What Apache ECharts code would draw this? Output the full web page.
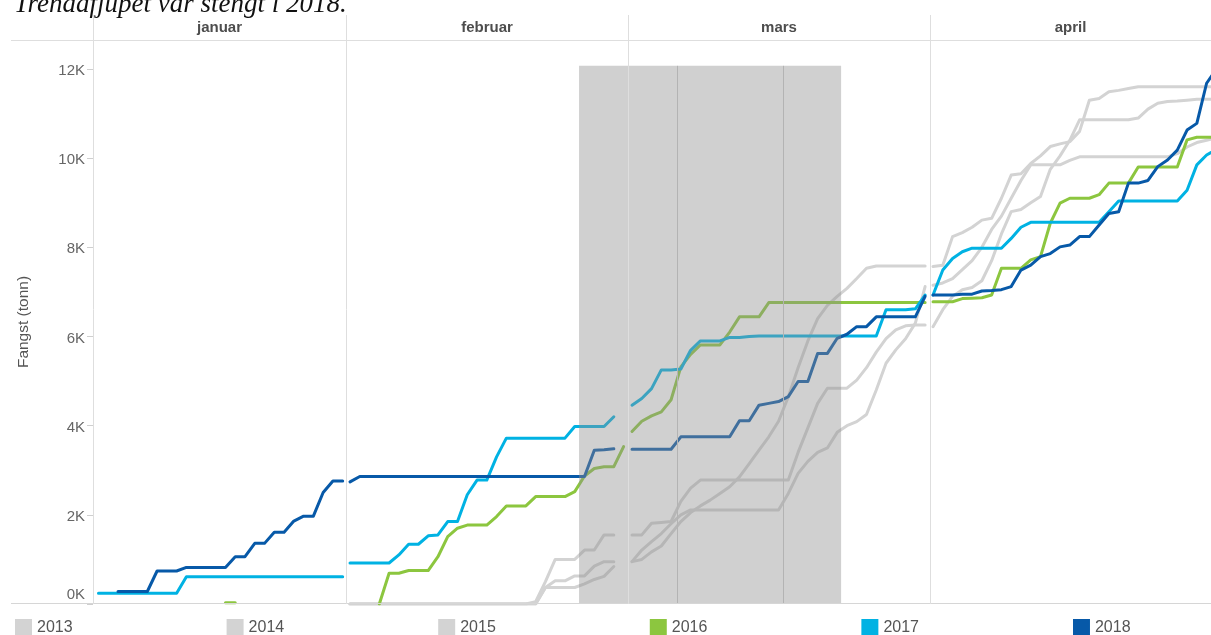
<!DOCTYPE html>
<html>
<head>
<meta charset="utf-8">
<script src="https://cdn.jsdelivr.net/npm/echarts@6/dist/echarts.min.js"></script>
<style>html,body{margin:0;padding:0;background:#fff}#c{width:1211px;height:635px}</style>
</head>
<body>
<div id="c"></div>
<script>
// ---------------- DATA (cumulative catch, tonnes) ----------------
const months = ['januar', 'februar', 'mars', 'april'];
const years = ['2013', '2014', '2015', '2016', '2017', '2018'];
const monthFirstDay = [6, 1, 1, 1];          // first day of month in each value list
const dayRange = [[5.44, 31.34], [0.59, 29.45], [0.59, 31.5], [0.69, 29.45]]; // x-axis extent per month (day of month)
const yTickLabels = ['0K', '2K', '4K', '6K', '8K', '10K', '12K'];

// januar (days 6..31)
const jan2016 = [null,null,null,null,null,null,null,null,null,null,null,null,null,30,30,null,null,null,null,null,null,null,null,null,null,null];
const jan2017 = [240,240,240,240,240,240,240,240,240,610,610,610,610,610,610,610,610,610,610,610,610,610,610,610,610,610];
const jan2018 = [null,null,280,280,280,280,740,740,740,820,820,820,820,820,1060,1060,1360,1360,1610,1610,1860,1970,1970,2500,2760,2760];

// februar (days 1..29)
const feb2013 = [0,0,0,0,0,0,0,0,0,0,0,0,0,0,0,0,0,0,0,50,500,1000,1000,1000,1210,1210,1550,1550,null];
const feb2014 = [0,0,0,0,0,0,0,0,0,0,0,0,0,0,0,0,0,0,0,0,370,520,520,630,630,850,950,950,null];
const feb2015 = [0,0,0,0,0,0,0,0,0,0,0,0,0,0,0,0,0,0,0,0,370,370,370,370,450,550,620,840,null];
const feb2016 = [null,null,null,0,690,690,750,750,750,1060,1510,1700,1770,1770,1770,1960,2200,2200,2200,2410,2410,2410,2410,2520,2870,3040,3080,3080,3530];
const feb2017 = [920,920,920,920,920,1100,1340,1340,1530,1550,1850,1850,2450,2780,2780,3300,3720,3720,3720,3720,3720,3720,3720,3980,3980,3980,3980,4200,null];
const feb2018 = [2740,2860,2860,2860,2860,2860,2860,2860,2860,2860,2860,2860,2860,2860,2860,2860,2860,2860,2860,2860,2860,2860,2860,2860,2860,3450,3460,3480,null];

// mars (days 1..31)
const mar2013 = [1550,1550,1810,1830,1850,2300,2600,2780,2780,2780,2780,2780,2780,2780,2780,2780,2780,3400,3950,4500,4840,4840,4840,5020,5300,5650,5950,6150,6240,6260,6260];
const mar2014 = [950,1000,1170,1300,1580,1850,2050,2200,2330,2480,2630,2850,3150,3450,3750,4100,4650,5300,5900,6400,6700,6900,7080,7300,7530,7580,7580,7580,7580,7580,7580];
const mar2015 = [950,1210,1400,1580,1800,2000,2110,2110,2110,2110,2110,2110,2110,2110,2110,2110,2480,2930,3200,3400,3500,3850,4000,4090,4250,4800,5400,5700,5950,6300,7120];
const mar2016 = [3870,4100,4220,4310,4580,5320,5600,5810,5810,5810,6100,6440,6440,6440,6760,6760,6760,6760,6760,6760,6760,6760,6760,6760,6760,6760,6760,6760,6760,6760,6760];
const mar2017 = [4460,4610,4830,5250,5250,5270,5690,5900,5900,5900,5980,5980,6000,6010,6010,6010,6010,6010,6010,6010,6010,6010,6010,6010,6010,6010,6600,6600,6600,6620,6930];
const mar2018 = [3470,3470,3470,3470,3470,3750,3750,3750,3750,3750,3750,4110,4110,4460,4500,4540,4650,4990,4990,5620,5620,5960,6050,6220,6220,6440,6440,6440,6440,6440,6900];

// april (days 1..30)
const apr2013 = [6220,6600,6900,7050,7100,7250,7700,8300,8800,8850,9000,9140,9750,10050,10400,10860,10860,10860,10860,10860,10860,10900,11100,11230,11270,11280,11300,11320,11320,11320];
const apr2014 = [7570,7600,8240,8330,8450,8610,8650,9100,9620,9650,9880,10050,10260,10320,10370,10600,11300,11340,11490,11520,11560,11600,11600,11600,11600,11600,11600,11600,11600,11600];
const apr2015 = [7150,7200,7300,7500,7700,8000,8400,8700,9100,9500,9850,9850,9850,9850,9950,10030,10030,10030,10030,10030,10030,10030,10030,10030,10030,10100,10250,10350,10400,10450];
const apr2016 = [6780,6780,6780,6850,6860,6870,6930,7530,7530,7530,7720,7790,8540,8990,9100,9100,9100,9180,9440,9440,9440,9800,9800,9800,9800,9800,10410,10470,10470,10470];
const apr2017 = [6930,7490,7750,7900,7980,7980,7980,7980,8200,8450,8560,8560,8560,8560,8560,8560,8560,8560,8800,9040,9040,9040,9040,9040,9040,9040,9280,9850,10070,10200];
const apr2018 = [6930,6930,6930,6950,6950,7020,7030,7050,7120,7490,7600,7790,7860,8010,8050,8240,8240,8500,8760,8800,9440,9440,9500,9810,9960,10180,10630,10780,11680,12000];

// closed period (shaded) and reference days
const closedFrom = { month: 1, day: 24.44 };
const closedTo = { month: 2, day: 22.4 };
const closedTop = 12070;
const marsRefDays = [5.6, 16.45];

const seriesByMonth = [
  { '2016': jan2016, '2017': jan2017, '2018': jan2018 },
  { '2013': feb2013, '2014': feb2014, '2015': feb2015, '2016': feb2016, '2017': feb2017, '2018': feb2018 },
  { '2013': mar2013, '2014': mar2014, '2015': mar2015, '2016': mar2016, '2017': mar2017, '2018': mar2018 },
  { '2013': apr2013, '2014': apr2014, '2015': apr2015, '2016': apr2016, '2017': apr2017, '2018': apr2018 }
];

// ---------------- STYLE / LAYOUT ----------------
const yearColors = { '2013': '#d3d3d3', '2014': '#d3d3d3', '2015': '#d3d3d3', '2016': '#8cc63f', '2017': '#00b2e3', '2018': '#0759a8' };
const panelEdges = [93, 346, 628, 930, 1211];
const plotTop = 40, plotBottom = 604;
const yMax = 12650;
const FONT = 'Liberation Sans, Arial, sans-serif';
const lineGray = '#dedede';

const chart = echarts.init(document.getElementById('c'), null, { renderer: 'canvas' });

const grids = [], xAxes = [], yAxes = [], series = [];
months.forEach((m, i) => {
  grids.push({ left: panelEdges[i], width: panelEdges[i + 1] - panelEdges[i], top: plotTop, height: plotBottom - plotTop, containLabel: false });
  xAxes.push({
    type: 'value', gridIndex: i, min: dayRange[i][0], max: dayRange[i][1], position: 'top',
    axisLine: { show: false }, axisTick: { show: false }, axisLabel: { show: false }, splitLine: { show: false },
    name: m, nameLocation: 'middle', nameGap: 12,
    nameTextStyle: { fontFamily: FONT, fontWeight: 'bold', fontSize: 15, color: '#4d4d4d', verticalAlign: 'middle' }
  });
  const y = { type: 'value', gridIndex: i, min: 0, max: yMax, interval: 2000, splitLine: { show: false } };
  if (i === 0) {
    Object.assign(y, {
      axisLine: { show: false },
      axisTick: { show: true, length: 6, lineStyle: { color: '#cfcfcf' } },
      axisLabel: {
        margin: 8, fontFamily: FONT, fontSize: 15, color: '#666', padding: [4, 0, 0, 0],
        formatter: v => {
          if (v % 2000 !== 0) return '';
          const t = yTickLabels[v / 2000];
          return v === 0 ? '{z|' + t + '}' : t;
        },
        rich: { z: { fontFamily: FONT, fontSize: 15, color: '#666', padding: [0, 0, 22, 0] } }
      },
      name: 'Fangst (tonn)', nameLocation: 'middle', nameGap: 61, nameRotate: 90,
      nameTextStyle: { fontFamily: FONT, fontSize: 15.5, color: '#555' }
    });
  } else {
    Object.assign(y, { show: false });
  }
  yAxes.push(y);

  years.forEach(yr => {
    const vals = seriesByMonth[i][yr];
    if (!vals) return;
    series.push({
      type: 'line', name: yr, xAxisIndex: i, yAxisIndex: i,
      data: vals.map((v, k) => [monthFirstDay[i] + k, v]),
      symbol: 'none', showSymbol: false, silent: true, animation: false, z: 2,
      lineStyle: { width: 3, color: yearColors[yr], cap: 'round', join: 'round' },
      itemStyle: { color: yearColors[yr] }
    });
  });
});

// shaded closed period (drawn over the lines, semi-transparent)
const bandStyle = { color: 'rgba(143,143,143,0.42)' };
series.push({
  type: 'line', name: 'stengt-a', xAxisIndex: closedFrom.month, yAxisIndex: closedFrom.month, data: [], silent: true, animation: false,
  markArea: { z: 3, silent: true, itemStyle: bandStyle, data: [[{ xAxis: closedFrom.day, yAxis: 0 }, { xAxis: dayRange[closedFrom.month][1], yAxis: closedTop }]] }
});
series.push({
  type: 'line', name: 'stengt-b', xAxisIndex: closedTo.month, yAxisIndex: closedTo.month, data: [], silent: true, animation: false,
  markArea: { z: 3, silent: true, itemStyle: bandStyle, data: [[{ xAxis: dayRange[closedTo.month][0], yAxis: 0 }, { xAxis: closedTo.day, yAxis: closedTop }]] },
  markLine: {
    z: 4, silent: true, symbol: 'none', label: { show: false },
    lineStyle: { type: 'solid', color: '#b3b3b3', width: 1 },
    data: marsRefDays.map(d => [{ xAxis: d, yAxis: 0 }, { xAxis: d, yAxis: closedTop }])
  }
});

// panel frame lines
const graphics = [];
graphics.push({ type: 'line', z: 50, silent: true, shape: { x1: 11, y1: plotTop + 0.5, x2: 1211, y2: plotTop + 0.5 }, style: { stroke: lineGray, lineWidth: 1 } });
graphics.push({ type: 'line', z: 50, silent: true, shape: { x1: 11, y1: plotBottom - 0.5, x2: 1211, y2: plotBottom - 0.5 }, style: { stroke: '#d6d6d6', lineWidth: 1 } });
panelEdges.slice(0, 4).forEach(x => {
  graphics.push({ type: 'line', z: 50, silent: true, shape: { x1: x + 0.5, y1: 15, x2: x + 0.5, y2: plotBottom }, style: { stroke: lineGray, lineWidth: 1 } });
});

chart.setOption({
  animation: false,
  backgroundColor: '#fff',
  title: {
    text: 'Trendafjupet var stengt i 2018.', left: 9, top: -14,
    textStyle: { fontFamily: 'Liberation Serif, serif', fontStyle: 'italic', fontWeight: 'normal', fontSize: 27, color: '#111' }
  },
  legend: {
    data: years, left: 15, top: 619, padding: 0, itemWidth: 17, itemHeight: 17, itemGap: 154, icon: 'rect',
    selectedMode: false, textStyle: { fontFamily: FONT, fontSize: 16, color: '#555' }, itemStyle: { borderWidth: 0 }
  },
  grid: grids, xAxis: xAxes, yAxis: yAxes, series: series, graphic: graphics
});
</script>
</body>
</html>
